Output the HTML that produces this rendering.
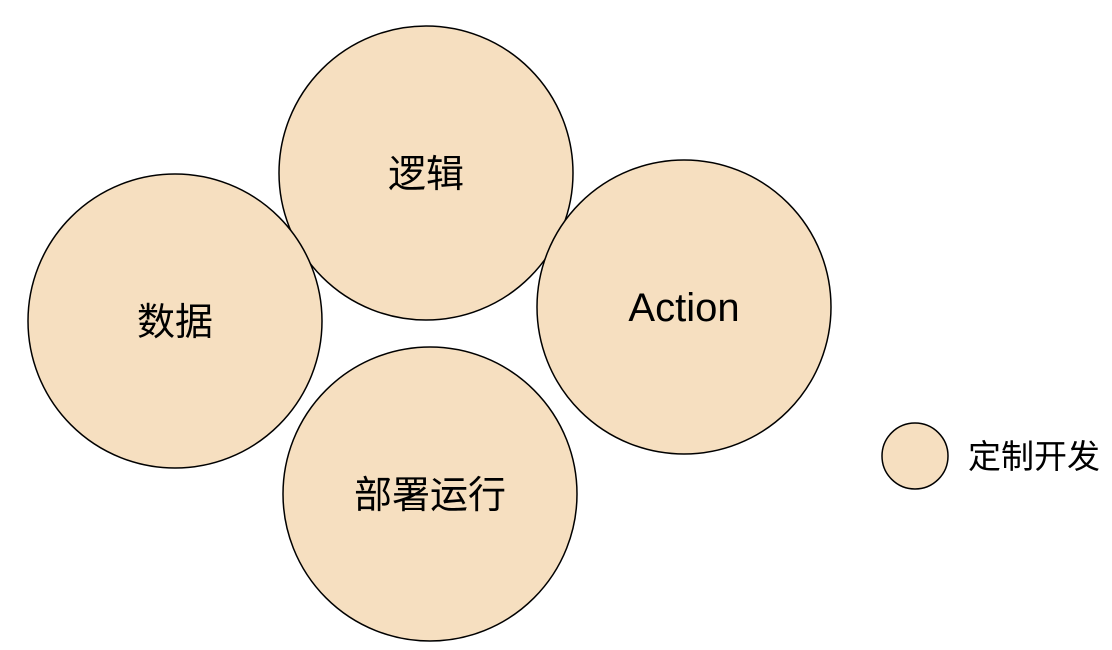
<!DOCTYPE html>
<html><head><meta charset="utf-8"><style>
html,body{margin:0;padding:0;background:#fff;width:1112px;height:650px;overflow:hidden}
text{font-family:"Liberation Sans","Noto Sans CJK SC",sans-serif;fill:#000}
</style></head><body>
<svg width="1112" height="650" viewBox="0 0 1112 650" xmlns="http://www.w3.org/2000/svg">
<g fill="#f6dfc0" stroke="#000" stroke-width="1.5">
<circle cx="426" cy="173" r="147"/>
<circle cx="175" cy="321" r="147"/>
<circle cx="684" cy="307" r="147"/>
<circle cx="430" cy="494" r="147"/>
<circle cx="915" cy="456" r="33"/>
</g>
<g font-size="38" text-anchor="middle">
<text x="426" y="187">逻辑</text>
<text x="175" y="335">数据</text>
<text x="684" y="321" font-size="40">Action</text>
<text x="430" y="508">部署运行</text>
</g>
<text x="968" y="468" font-size="33">定制开发</text>
</svg>
</body></html>
